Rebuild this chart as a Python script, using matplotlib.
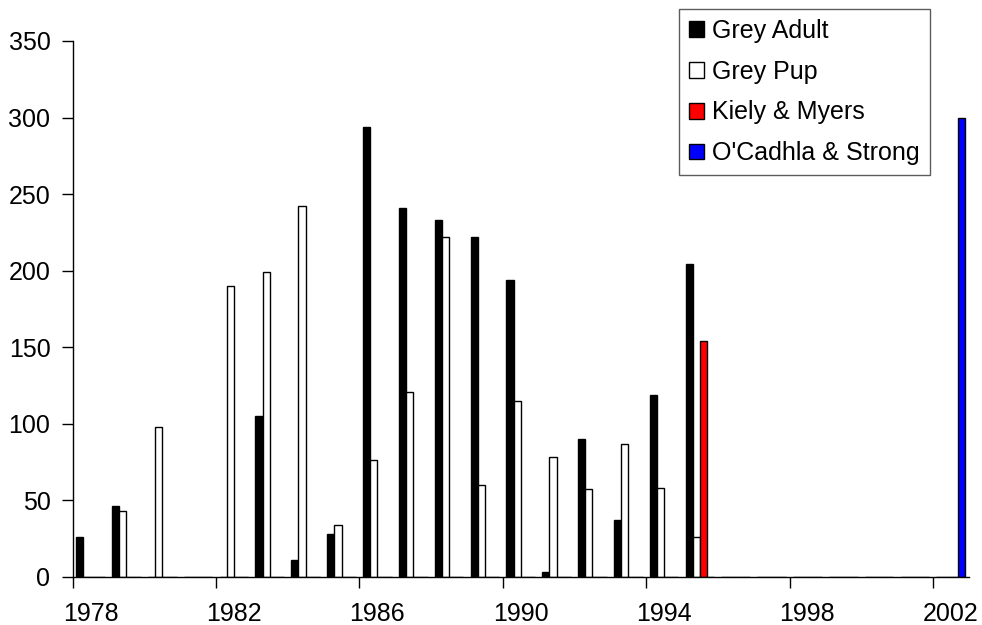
#!/usr/bin/env python3
"""
Grey seal counts per year, with the two survey estimates.
"""
import matplotlib
matplotlib.use('Agg')
import matplotlib.pyplot as plt
import numpy as np

years = list(range(1978, 2003))
grey_adult = [26, 46, 0, 0, 0, 105, 11, 28, 294, 241, 233, 222, 194, 3,
              90, 37, 119, 204, 0, 0, 0, 0, 0, 0, 0]
grey_pup = [0, 43, 98, 0, 190, 199, 242, 34, 76, 121, 222, 60, 115, 78,
            57, 87, 58, 26, 0, 0, 0, 0, 0, 0, 0]
kiely_myers = [0] * 17 + [154] + [0] * 7
ocadhla_strong = [0] * 24 + [300]

series = [
    ('Grey Adult', grey_adult, 'black'),
    ('Grey Pup', grey_pup, 'white'),
    ('Kiely & Myers', kiely_myers, '#ff0000'),
    ("O'Cadhla & Strong", ocadhla_strong, '#0000ff'),
]

plt.rcParams['font.family'] = ['Liberation Sans', 'DejaVu Sans']
fs = 18

fig = plt.figure(figsize=(9.82, 6.25), dpi=100)
ax = fig.add_axes([72.7 / 982, 1 - 576.7 / 625, 896 / 982, 535.7 / 625])

n = len(years)
centers = np.arange(n) + 0.5
width = 0.2
for k, (label, vals, col) in enumerate(series):
    ax.bar(centers + (k - 1.5) * width, vals, width, color=col,
           edgecolor='black', linewidth=1, label=label)

ax.set_xlim(0, n)
ax.set_ylim(0, 350)
ax.set_yticks(range(0, 351, 50))
# ticks between categories, labels centred in them
ax.set_xticks(range(0, n, 4))
ax.set_xticklabels([])
ax.set_xticks(centers[::4], minor=True)
ax.set_xticklabels([str(y) for y in years[::4]], minor=True)

ax.tick_params(axis='both', which='major', length=8, width=1, direction='out',
               labelsize=fs, color='black')
ax.tick_params(axis='y', pad=8)
ax.tick_params(axis='x', which='minor', length=0, pad=18, labelsize=fs)

for side in ('top', 'right'):
    ax.spines[side].set_visible(False)
for side in ('left', 'bottom'):
    ax.spines[side].set_linewidth(1)
    ax.spines[side].set_color('black')

leg = fig.legend(loc='upper right', bbox_to_anchor=(929.5 / 982, 1 - 9 / 625),
                 fontsize=fs, frameon=True, fancybox=False, shadow=False,
                 handlelength=0.6, handleheight=0.6, handletextpad=0.3,
                 labelspacing=0.67, borderpad=0.4, borderaxespad=0)
leg.get_frame().set_edgecolor('#333333')
leg.get_frame().set_linewidth(1)

plt.savefig('out.png', dpi=100)
